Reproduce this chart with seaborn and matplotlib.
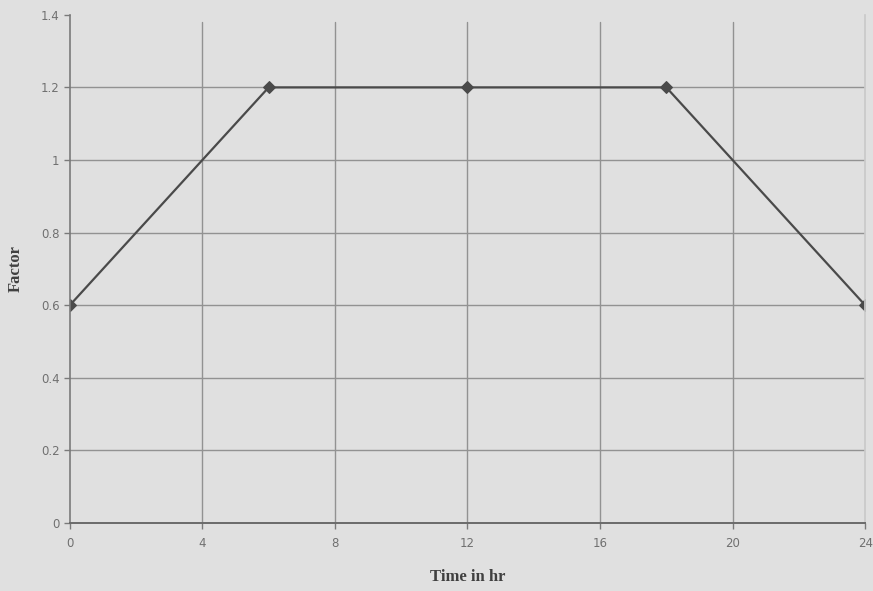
import matplotlib
matplotlib.use("Agg")
import matplotlib.pyplot as plt
import seaborn as sns
import pandas as pd

hours = [0, 6, 12, 18, 24]
factor = [0.6, 1.2, 1.2, 1.2, 0.6]
x_ticks = [0, 4, 8, 12, 16, 20, 24]
y_ticks = [0, 0.2, 0.4, 0.6, 0.8, 1.0, 1.2, 1.4]
y_labels = ["0", "0.2", "0.4", "0.6", "0.8", "1", "1.2", "1.4"]

df = pd.DataFrame({"Time in hr": hours, "Factor": factor})

sns.set_theme(style="white")
bg = "#e0e0e0"
fig = plt.figure(figsize=(8.73, 5.91), dpi=100, facecolor=bg)
ax = fig.add_axes([0.080, 0.115, 0.911, 0.860])
ax.set_facecolor(bg)

sns.lineplot(data=df, x="Time in hr", y="Factor", ax=ax, color="#4a4a4a",
             marker="D", markersize=6, markeredgecolor="#4a4a4a", linewidth=1.6)

ax.set_xlim(0, 24)
ax.set_ylim(0, 1.4)
ax.set_xticks(x_ticks)
ax.set_xticklabels([str(t) for t in x_ticks])
ax.set_yticks(y_ticks)
ax.set_yticklabels(y_labels)

for t in x_ticks[1:-1]:
    ax.axvline(t, ymin=0, ymax=0.985, color="#929292", linewidth=1.0, zorder=0)
for t in y_ticks[1:-1]:
    ax.axhline(t, color="#929292", linewidth=1.0, zorder=0)

ax.spines["top"].set_visible(False)
ax.spines["right"].set_color("#cacaca")
ax.spines["left"].set_color("#7a7a7a")
ax.spines["bottom"].set_color("#6a6a6a")
ax.spines["left"].set_linewidth(1.2)
ax.spines["bottom"].set_linewidth(1.4)

ax.tick_params(axis="both", colors="#7a7a7a", labelcolor="#707070", labelsize=8.5,
               length=4, width=1, direction="out", left=True, bottom=True)
ax.tick_params(axis="x", pad=6)

ax.set_xlabel("Time in hr", family="Liberation Serif", fontweight="bold", fontsize=12,
              color="#404040", labelpad=14)
ax.set_ylabel("Factor", family="Liberation Serif", fontweight="bold", fontsize=12,
              color="#404040", labelpad=12)

fig.savefig("out.png", dpi=100, facecolor=bg)
